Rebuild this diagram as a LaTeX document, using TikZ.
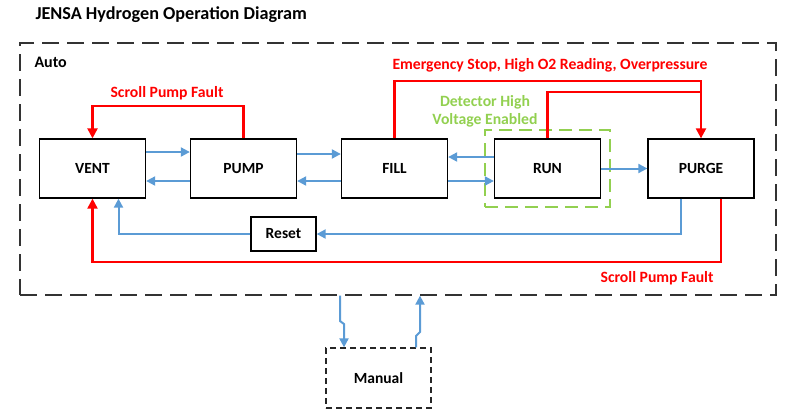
\documentclass[tikz,border=0pt]{standalone}
\usepackage{fontspec}
\setmainfont{Carlito}
\usepackage{tikz}
\usetikzlibrary{arrows.meta}

\definecolor{flowblue}{RGB}{91,155,213}
\definecolor{faultred}{RGB}{255,0,0}
\definecolor{hvgreen}{RGB}{146,208,80}

\begin{document}
\begin{tikzpicture}[x=1pt,y=-1pt,
	box/.style={shape=rectangle,draw=black,line width=1.3pt,minimum width=106pt,minimum height=59pt,inner sep=0pt,font=\fontsize{15.5}{18}\selectfont\bfseries},
	bluearr/.style={flowblue,line width=2pt,-{Triangle[length=9pt,width=9pt]}},
	redarr/.style={faultred,line width=2.2pt,-{Triangle[length=10pt,width=10pt]}},
	lbl/.style={font=\fontsize{15.7}{18}\selectfont\bfseries}]
	
	\useasboundingbox (0,0) rectangle (786,418);
	
	\node[anchor=west,font=\fontsize{18.2}{21}\selectfont\bfseries] (title) at (32,15) {JENSA Hydrogen Operation Diagram};
	\node[shape=rectangle,draw=black!80,line width=1.3pt,dash pattern=on 17pt off 8pt,minimum width=756pt,minimum height=252pt] (auto) at (398,169) {};
	\node[anchor=west,font=\fontsize{16}{19}\selectfont\bfseries] (autolbl) at (31,62) {Auto};
	
	\node[shape=rectangle,draw=hvgreen,line width=1.5pt,dash pattern=on 13pt off 7pt,minimum width=125pt,minimum height=77pt] (hvzone) at (547.5,168.5) {};
	\node[lbl,text=hvgreen,align=center] (hvlbl) at (485,111) {Detector High\\Voltage Enabled};
	
	\node[box] (vent)  at (92.5, 168.5)  {VENT};
	\node[box] (pump)  at (243.5, 168.5) {PUMP};
	\node[box] (fill)  at (394.5, 168.5) {FILL};
	\node[box] (run)   at (547.5, 168.5) {RUN};
	\node[box] (purge) at (701, 168.5)   {PURGE};
	
	\node[box,minimum width=65pt,minimum height=34pt] (reset) at (283.5,234) {Reset};
	\node[box,draw=black!85,dash pattern=on 6pt off 4pt,minimum width=105pt,minimum height=60pt] (manual) at (378.5,378) {Manual};
	
	\path[bluearr] (vent.east |- 0,152) edge (pump.west |- 0,152);
	\path[bluearr] (pump.west |- 0,181) edge (vent.east |- 0,181);
	\path[bluearr] (pump.east |- 0,154) edge (fill.west |- 0,154);
	\path[bluearr] (fill.west |- 0,181) edge (pump.east |- 0,181);
	\path[bluearr] (run.west |- 0,157) edge (fill.east |- 0,157);
	\path[bluearr] (fill.east |- 0,181) edge (run.west |- 0,181);
	\path[bluearr] (run) edge (purge);
	
	\node[lbl,text=faultred] (spflbl) at (167,93) {Scroll Pump Fault};
	\draw[redarr] (pump.north) -- ++(0,-32) -| (vent.north);
	
	\node[lbl,text=faultred] (emlbl) at (550,65) {Emergency Stop, High O2 Reading, Overpressure};
	\coordinate (emjoin) at (701,92);
	\draw[redarr] (fill.north) -- ++(0,-57) -| (purge.north);
	\draw[faultred,line width=2.2pt] (run.north) |- (emjoin);
	
	\draw[bluearr] ([xshift=-20pt]purge.south) |- (reset.east);
	\draw[bluearr] (reset.west) -| ([xshift=26pt]vent.south);
	\draw[redarr] ([xshift=20pt]purge.south) -- ++(0,63) -| (vent.south);
	\node[lbl,anchor=east,text=faultred] (spflbl2) at (717,278) {Scroll Pump Fault};
	
	\coordinate (dnbend) at (340,321);
	\coordinate (dnjog) at (344,324);
	\draw[bluearr] (auto.south -| dnbend) -- (dnbend) -- (dnjog) -- (dnjog |- manual.north);
	\coordinate (upbend) at (416,336);
	\coordinate (upjog) at (420,332);
	\draw[bluearr] (manual.north -| upbend) -- (upbend) -- (upjog) -- (upjog |- auto.south);

\end{tikzpicture}
\end{document}
